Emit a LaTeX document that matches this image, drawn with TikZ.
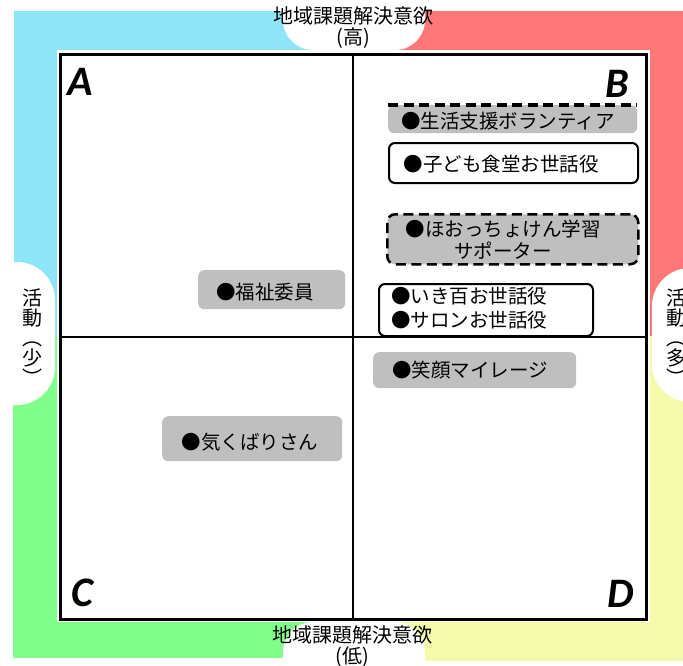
\documentclass[tikz,border=0pt]{standalone}
\usepackage{fontspec}
\setmainfont{Noto Sans CJK JP}
\newfontfamily\letterfont{Carlito}
\definecolor{qcyan}{RGB}{142,229,248}
\definecolor{qred}{RGB}{255,119,119}
\definecolor{qgreen}{RGB}{128,255,138}
\definecolor{qyellow}{RGB}{244,250,170}
\definecolor{boxgray}{RGB}{191,191,191}
\begin{document}
\begin{tikzpicture}[x=1pt,y=-1pt,
  graybox/.style={fill=boxgray, rounded corners=6pt, inner sep=0pt, anchor=north west},
  whitebox/.style={fill=white, draw=black, line width=2pt, rounded corners=6pt, inner sep=0pt, anchor=north west},
  dashbox/.style={fill=boxgray, draw=black, line width=2.5pt, dash pattern=on 10pt off 5.5pt, rounded corners=8pt, inner sep=0pt, anchor=north west},
  lbl/.style={inner sep=0pt, font=\fontsize{19.5pt}{22pt}\selectfont},
  axislbl/.style={inner sep=0pt, align=center, font=\fontsize{20pt}{21pt}\selectfont},
  vlbl/.style={inner sep=0pt, align=center, font=\fontsize{20pt}{20pt}\selectfont},
  quad/.style={inner sep=0pt, anchor=base, font=\letterfont\bfseries\itshape\fontsize{42pt}{42pt}\selectfont}
]
\useasboundingbox (0,0) rectangle (683,665);
% coloured quadrants
\fill[qcyan] (14,11) rectangle (353,336);
\fill[qred] (353,11) rectangle (683,336);
\fill[qgreen] (13,336) rectangle (353,658);
\fill[qyellow] (353,336) rectangle (683,661);
% white bubbles
\fill[white, rounded corners=30pt] (283,-40) rectangle (425,50);
\fill[white, rounded corners=30pt] (283,622) rectangle (425,720);
\fill[white, rounded corners=38pt] (-40,262) rectangle (55,405);
\fill[white, rounded corners=38pt] (652,268) rectangle (740,402);
% frame
\fill[white] (57,50) rectangle (650,622);
\node (frame) [draw=black, line width=2.5pt, minimum width=586pt, minimum height=565pt, inner sep=0pt, anchor=north west] at (59,53) {};
\draw[line width=2pt] (frame.north) -- (frame.south);
\draw[line width=2pt] (frame.west) -- (frame.east);
% quadrant letters
\node (qa) [quad] at (80.5,95) {A};
\node (qb) [quad] at (617,97) {B};
\node (qc) [quad] at (82,606) {C};
\node (qd) [quad] at (621,607) {D};
% axis labels
\node (axtop) [axislbl] at (353,27.5) {地域課題解決意欲\\(高)};
\node (axbot) [axislbl] at (352,647) {地域課題解決意欲\\(低)};
\node (axleft) [vlbl] at (32,337) {活\\動\\︵\\少\\︶};
\node (axright) [vlbl] at (676,337) {活\\動\\︵\\多\\︶};
% box 1
\node (b1box) [graybox, minimum width=249pt, minimum height=28pt] at (388,105) {};
\draw[line width=3.5pt, dash pattern=on 10pt off 5.5pt] (b1box.north west) -- (b1box.north east);
\node (b1) [lbl] at (508,121) {●生活支援ボランティア};
% box 2
\node (b2box) [whitebox, minimum width=249pt, minimum height=40pt] at (388,142) {};
\node (b2) [lbl] at (501,164) {●子ども食堂お世話役};
% box 3
\node (b3box) [dashbox, minimum width=251pt, minimum height=50pt] at (386,213) {};
\node (b3) [lbl, align=center] at (503,240) {●ほおっちょけん学習\\サポーター};
% box 4
\node (b4box) [whitebox, minimum width=214pt, minimum height=52pt] at (378,283) {};
\node (b4) [lbl, align=left, anchor=west, font=\fontsize{19.5pt}{24pt}\selectfont] at (391,308) {●いき百お世話役\\●サロンお世話役};
% box 5
\node (b5box) [graybox, minimum width=147pt, minimum height=39pt] at (198,270) {};
\node (b5) [lbl] at (265,292) {●福祉委員};
% box 6
\node (b6box) [graybox, minimum width=203pt, minimum height=36pt] at (373,352) {};
\node (b6) [lbl] at (470,370) {●笑顔マイレージ};
% box 7
\node (b7box) [graybox, minimum width=180pt, minimum height=45pt] at (162,416) {};
\node (b7) [lbl] at (250,442) {●気くばりさん};
\end{tikzpicture}
\end{document}
